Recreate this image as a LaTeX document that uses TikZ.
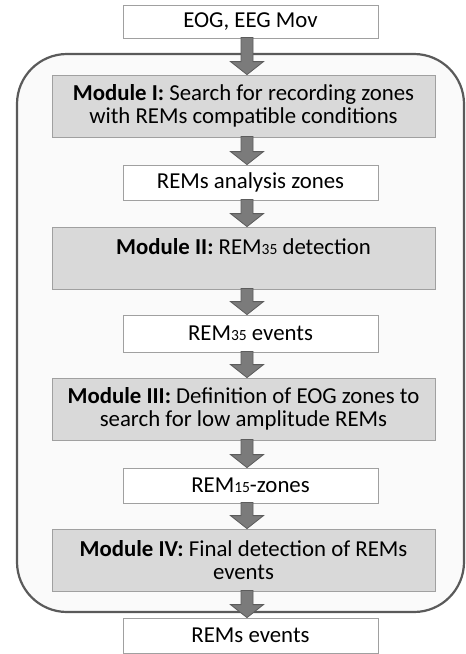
\documentclass[tikz,border=0pt]{standalone}
\usepackage{fontspec}
\setmainfont{Carlito}
\usetikzlibrary{calc}
\definecolor{boxgray}{HTML}{D9D9D9}
\definecolor{bordergray}{HTML}{A0A0A0}
\definecolor{framegray}{HTML}{5A5A5A}
\definecolor{framefill}{HTML}{FAFAFA}
\definecolor{arrowfill}{HTML}{7B7B7B}
\definecolor{arrowline}{HTML}{5C5C5C}
\newcommand{\remsub}[1]{{\fontsize{15.5}{15.5}\selectfont #1}}
\newcommand{\blockarrow}[2]{%
  \path (#1.south -| ax) coordinate (s) (#2.north -| ax) coordinate (t);
  \filldraw[barrow] ($(s)+(-6pt,1pt)$) -- ($(t)+(-6pt,13pt)$) -- ($(t)+(-16.5pt,13pt)$) -- (t)
    -- ($(t)+(16.5pt,13pt)$) -- ($(t)+(6pt,13pt)$) -- ($(s)+(6pt,1pt)$) -- cycle;}
\begin{document}
\begin{tikzpicture}[x=1pt,y=-1pt,font=\fontsize{22.8}{22.5}\selectfont,
  wbox/.style={draw=bordergray,fill=white,line width=0.8pt,minimum width=255pt,minimum height=35pt,inner sep=0pt,align=center},
  mbox/.style={draw=bordergray,fill=boxgray,line width=0.8pt,minimum width=383pt,minimum height=62pt,inner sep=0pt,align=center},
  barrow/.style={fill=arrowfill,draw=arrowline,line width=0.8pt,line join=miter},
  frame/.style={draw=framegray,fill=framefill,line width=2.2pt,rounded corners=50pt}]
\useasboundingbox (0,0) rectangle (466,654);
\fill[white] (0,0) rectangle (466,654);
\draw[frame] (17,54) rectangle (464,612);
\coordinate (ax) at (247,0);
\node[wbox,minimum height=33pt] (in) at (250.5,21.5) {EOG, EEG Mov};
\node[mbox] (m1) at (243.5,106) {\textbf{Module I:} Search for recording zones\\with REMs compatible conditions};
\node[wbox] (z1) at (250.5,182.5) {REMs analysis zones};
\node[mbox] (m2) at (243.5,258) {\textbf{Module II:} REM\remsub{35} detection\\\mbox{}};
\node[wbox,minimum height=37pt] (e35) at (250.5,333.5) {REM\remsub{35} events};
\node[mbox] (m3) at (243.5,409) {\textbf{Module III:} Definition of EOG zones to\\search for low amplitude REMs};
\node[wbox] (z15) at (250.5,485.5) {REM\remsub{15}-zones};
\node[mbox] (m4) at (243.5,560) {\textbf{Module IV:} Final detection of REMs\\events};
\node[wbox] (out) at (250.5,635.5) {REMs events};
\blockarrow{in}{m1}
\blockarrow{m1}{z1}
\blockarrow{z1}{m2}
\blockarrow{m2}{e35}
\blockarrow{e35}{m3}
\blockarrow{m3}{z15}
\blockarrow{z15}{m4}
\blockarrow{m4}{out}
\end{tikzpicture}
\end{document}
